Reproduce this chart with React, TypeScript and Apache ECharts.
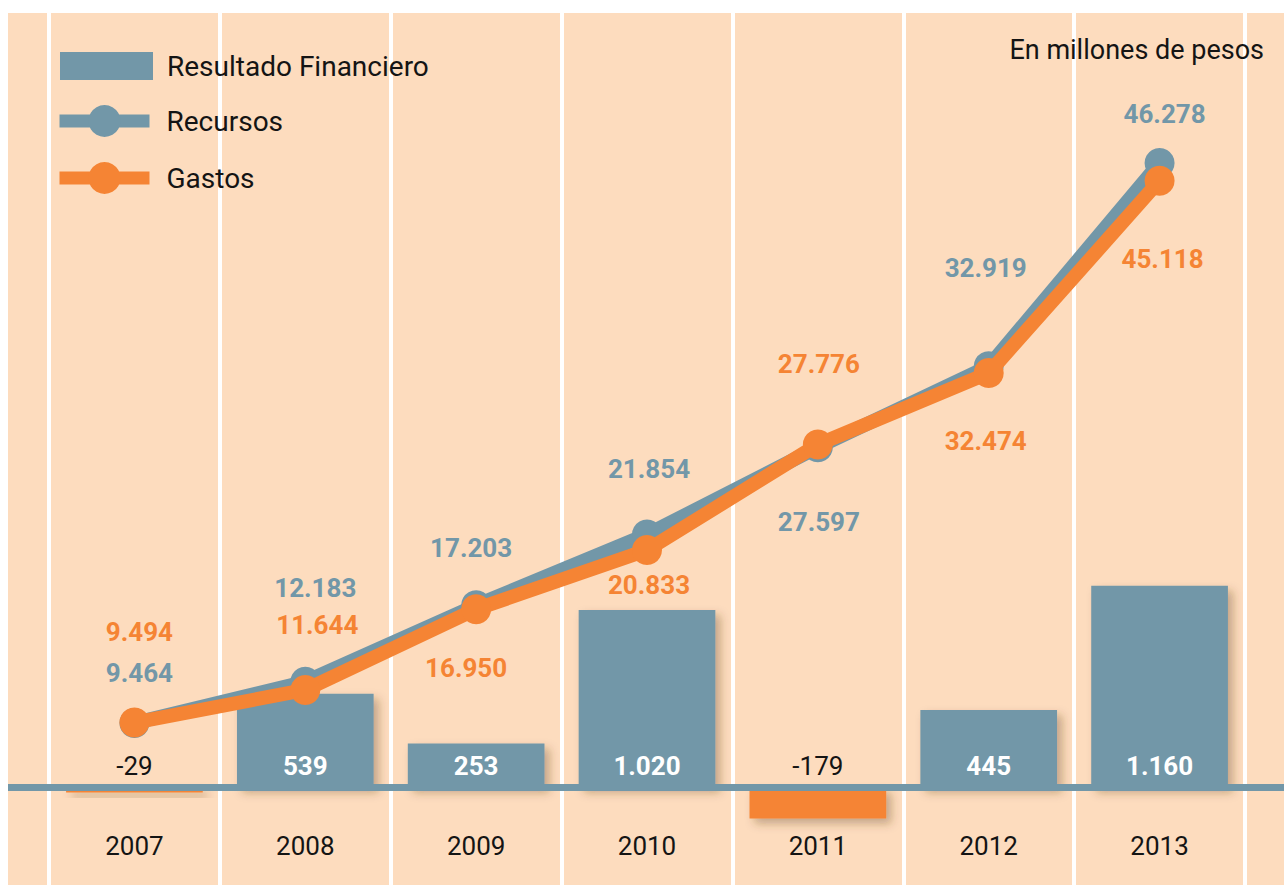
import React, { useEffect, useRef } from 'react';
import * as echarts from 'echarts';

const years = ['2007', '2008', '2009', '2010', '2011', '2012', '2013'];
const resultado = [-29, 539, 253, 1020, -179, 445, 1160];
const recursos = [9464, 12183, 17203, 21854, 27597, 32919, 46278];
const gastos = [9494, 11644, 16950, 20833, 27776, 32474, 45118];

// label offsets (px) relative to each point
const recursosLabelOffsets = [[5, -50], [10, -94], [-5, -57], [2, -66], [1, 75], [-3, -98], [5, -49]];
const gastosLabelOffsets = [[5, -91], [12, -65], [-10, 59], [2, 35], [1, -81], [-3, 68], [3, 78]];

const BLUE = '#7297A8';
const ORANGE = '#F58434';
const PEACH = '#FDDCBE';
const TEXT = '#141414';
const FONT = 'Roboto, "Noto Sans", sans-serif';

function fmt(n: number) {
  const s = Math.abs(n).toString().replace(/\B(?=(\d{3})+(?!\d))/g, '.');
  return (n < 0 ? '-' : '') + s;
}

export default function App() {
  const ref = useRef<HTMLDivElement>(null);
  useEffect(() => {
    if (!ref.current) return;
    const chart = echarts.init(ref.current, null, { renderer: 'svg' });
    const option: any = {
      animation: false,
      backgroundColor: PEACH,
      textStyle: { fontFamily: FONT },
      title: {
        text: 'En millones de pesos',
        right: 15,
        top: 18,
        textStyle: { fontSize: 27, fontWeight: 'normal', color: TEXT, fontFamily: FONT },
      },
      legend: [
        {
          data: [{ name: 'Resultado Financiero', icon: 'rect' }],
          left: 52,
          top: 39,
          padding: 0,
          itemWidth: 93,
          itemHeight: 28,
          selectedMode: false,
          textStyle: { fontSize: 28, color: TEXT, fontFamily: FONT, padding: [0, 0, 0, 9] },
        },
        {
          data: ['Recursos', 'Gastos'],
          orient: 'vertical',
          left: 45,
          top: 92,
          padding: 0,
          itemWidth: 90,
          itemHeight: 40,
          itemGap: 25,
          selectedMode: false,
          lineStyle: { width: 13 },
          textStyle: { fontSize: 28, color: TEXT, fontFamily: FONT, padding: [0, 0, 0, 12] },
        },
      ],
      grid: { left: 41, right: 39, top: 0, bottom: 0 },
      xAxis: {
        type: 'category',
        data: years,
        axisLine: { show: false },
        axisTick: { show: false },
        axisLabel: { inside: true, margin: 26, fontSize: 26, color: TEXT, fontFamily: FONT },
        splitLine: { show: true, lineStyle: { color: '#ffffff', width: 4 } },
      },
      yAxis: [
        { type: 'value', min: -1183, max: 56144, show: false, splitLine: { show: false } },
        { type: 'value', min: -561, max: 4453, show: false, splitLine: { show: false } },
      ],
      series: [
        {
          name: 'Resultado Financiero',
          type: 'bar',
          yAxisIndex: 1,
          barWidth: '80%',
          itemStyle: {
            color: BLUE,
            shadowBlur: 10,
            shadowOffsetX: 5,
            shadowOffsetY: 5,
            shadowColor: 'rgba(90,60,30,0.35)',
          },
          label: {
            show: true,
            distance: 8,
            fontSize: 26,
            fontFamily: FONT,
            formatter: (p: any) => fmt(p.value),
          },
          data: resultado.map((v) => ({
            value: v,
            itemStyle: v < 0 ? { color: ORANGE } : undefined,
            label:
              v < 0
                ? { position: 'top', color: TEXT, fontWeight: 'normal' }
                : { position: 'insideBottom', color: '#ffffff', fontWeight: 'bold' },
          })),
          z: 2,
        },
        {
          name: 'Recursos',
          type: 'line',
          yAxisIndex: 0,
          symbol: 'circle',
          symbolSize: 30,
          lineStyle: { width: 14, color: BLUE },
          itemStyle: { color: BLUE },
          label: {
            show: true,
            position: 'inside',
            fontSize: 26,
            fontWeight: 'bold',
            color: BLUE,
            fontFamily: FONT,
            formatter: (p: any) => fmt(p.value),
          },
          data: recursos.map((v, i) => ({ value: v, label: { offset: recursosLabelOffsets[i] } })),
          z: 3,
        },
        {
          name: 'Gastos',
          type: 'line',
          yAxisIndex: 0,
          symbol: 'circle',
          symbolSize: 30,
          lineStyle: { width: 14, color: ORANGE },
          itemStyle: { color: ORANGE },
          label: {
            show: true,
            position: 'inside',
            fontSize: 26,
            fontWeight: 'bold',
            color: ORANGE,
            fontFamily: FONT,
            formatter: (p: any) => fmt(p.value),
          },
          data: gastos.map((v, i) => ({ value: v, label: { offset: gastosLabelOffsets[i] } })),
          z: 4,
        },
      ],
    };
    chart.setOption(option);
    const y0 = chart.convertToPixel({ yAxisIndex: 1 } as any, 0) as number;
    chart.setOption({
      graphic: [
        {
          type: 'line',
          z: 10,
          shape: { x1: 0, y1: y0, x2: 1276, y2: y0 },
          style: { stroke: BLUE, lineWidth: 7 },
        },
      ],
    });
    return () => chart.dispose();
  }, []);
  return (
    <div
      ref={ref}
      style={{ position: 'absolute', left: 8, top: 13, width: 1276, height: 872 }}
    />
  );
}
